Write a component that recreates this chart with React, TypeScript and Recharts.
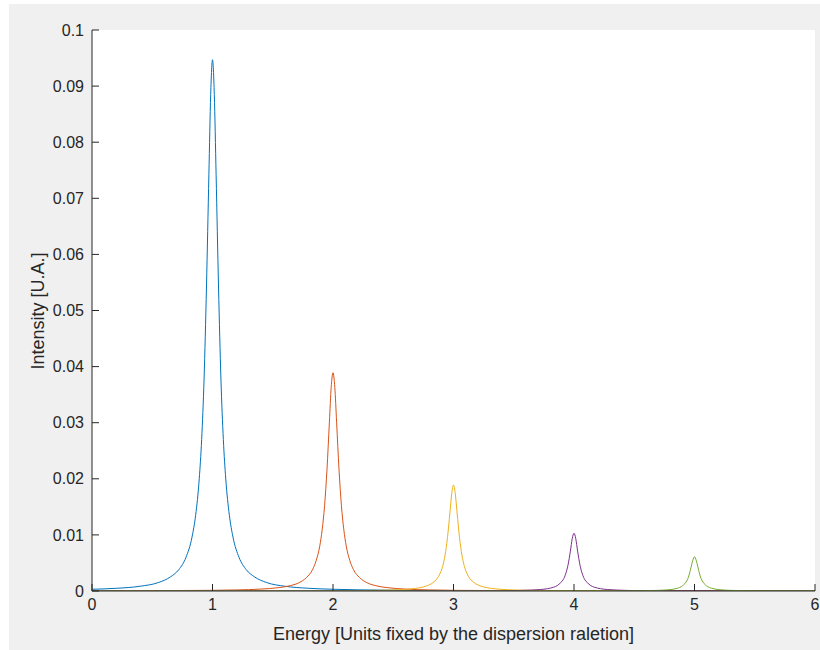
import { LineChart, Line, XAxis, YAxis, Label } from "recharts";

// energy / intensity, one pair of arrays per peak
const energy1 = [0, 0.2, 0.4, 0.55, 0.65, 0.72, 0.78, 0.83, 0.86, 0.89, 0.91, 0.93, 0.95, 0.97, 0.985, 1,
  1.015, 1.03, 1.05, 1.07, 1.09, 1.11, 1.14, 1.17, 1.22, 1.28, 1.35, 1.45, 1.6, 1.8, 2, 2.2, 3, 4, 6];
const intensity1 = [0.00031, 0.00048, 0.00085, 0.0015, 0.0025, 0.0038, 0.006, 0.0096, 0.0135, 0.02, 0.027, 0.0378, 0.0542, 0.0742, 0.0885, 0.0947,
  0.0885, 0.0742, 0.0542, 0.0378, 0.027, 0.02, 0.0135, 0.0096, 0.006, 0.0038, 0.0025, 0.0015, 0.00085, 0.00048, 0.00031, 0.00021, 0.000077, 0.000034, 0.000012];

const energy2 = [0, 1, 1.2, 1.4, 1.55, 1.65, 1.72, 1.78, 1.83, 1.86, 1.89, 1.91, 1.93, 1.95, 1.97, 1.985, 2,
  2.015, 2.03, 2.05, 2.07, 2.09, 2.11, 2.14, 2.17, 2.22, 2.28, 2.35, 2.45, 2.6, 2.8, 3, 4, 6];
const intensity2 = [0.00003, 0.00012, 0.00019, 0.00034, 0.0006, 0.00097, 0.0015, 0.0024, 0.0038, 0.0054, 0.008, 0.0109, 0.0152, 0.0216, 0.0301, 0.0363, 0.0389,
  0.0363, 0.0301, 0.0216, 0.0152, 0.0109, 0.008, 0.0054, 0.0038, 0.0024, 0.0015, 0.00097, 0.0006, 0.00034, 0.00019, 0.00012, 0.00003, 0.000008];

const energy3 = [0, 1, 2, 2.2, 2.4, 2.55, 2.65, 2.72, 2.78, 2.83, 2.86, 2.89, 2.91, 2.93, 2.95, 2.97, 2.985, 3,
  3.015, 3.03, 3.05, 3.07, 3.09, 3.11, 3.14, 3.17, 3.22, 3.28, 3.35, 3.45, 3.6, 3.8, 4, 5, 6];
const intensity3 = [0.000005, 0.000012, 0.000047, 0.000074, 0.00013, 0.00023, 0.00038, 0.00058, 0.00093, 0.0015, 0.0021, 0.0032, 0.0044, 0.0064, 0.0095, 0.0139, 0.0173, 0.0189,
  0.0173, 0.0139, 0.0095, 0.0064, 0.0044, 0.0032, 0.0021, 0.0015, 0.00093, 0.00058, 0.00038, 0.00023, 0.00013, 0.000074, 0.000047, 0.000012, 0.000005];

const energy4 = [0, 2, 3, 3.2, 3.4, 3.55, 3.65, 3.72, 3.78, 3.83, 3.86, 3.89, 3.91, 3.93, 3.95, 3.97, 3.985, 4,
  4.015, 4.03, 4.05, 4.07, 4.09, 4.11, 4.14, 4.17, 4.22, 4.28, 4.35, 4.45, 4.6, 4.8, 5, 6];
const intensity4 = [0.0000013, 0.000005, 0.00002, 0.000032, 0.000057, 0.0001, 0.00017, 0.00026, 0.00041, 0.00067, 0.00095, 0.0015, 0.002, 0.003, 0.0046, 0.0071, 0.0093, 0.0103,
  0.0093, 0.0071, 0.0046, 0.003, 0.002, 0.0015, 0.00095, 0.00067, 0.00041, 0.00026, 0.00017, 0.0001, 0.000057, 0.000032, 0.00002, 0.000005];

const energy5 = [0, 3, 4, 4.2, 4.4, 4.55, 4.65, 4.72, 4.78, 4.83, 4.86, 4.89, 4.91, 4.93, 4.95, 4.97, 4.985, 5,
  5.015, 5.03, 5.05, 5.07, 5.09, 5.11, 5.14, 5.17, 5.22, 5.28, 5.35, 5.45, 5.6, 5.8, 6];
const intensity5 = [0.0000004, 0.0000027, 0.000011, 0.000017, 0.00003, 0.000052, 0.000086, 0.00013, 0.00021, 0.00035, 0.0005, 0.00077, 0.0011, 0.0016, 0.0025, 0.0041, 0.0054, 0.0061,
  0.0054, 0.0041, 0.0025, 0.0016, 0.0011, 0.00077, 0.0005, 0.00035, 0.00021, 0.00013, 0.000086, 0.000052, 0.00003, 0.000017, 0.000011];

const xTicks = [0, 1, 2, 3, 4, 5, 6];
const yTicks = [0, 0.01, 0.02, 0.03, 0.04, 0.05, 0.06, 0.07, 0.08, 0.09, 0.1];

const colors = ["#0072BD", "#D95319", "#EDB120", "#7E2F8E", "#77AC30"];

const toPoints = (xs: number[], ys: number[]) => xs.map((x, i) => ({ x, y: ys[i] }));

const series = [
  toPoints(energy1, intensity1),
  toPoints(energy2, intensity2),
  toPoints(energy3, intensity3),
  toPoints(energy4, intensity4),
  toPoints(energy5, intensity5),
];

const font = "'Liberation Sans', Arial, sans-serif";
const axisColor = "#262626";
const tickStyle = { fill: axisColor, fontSize: 16, fontFamily: font };

export default function App() {
  const W = 811;
  const H = 646;
  return (
    <div style={{ position: "absolute", left: 9, top: 4, width: W, height: H, background: "#f0f0f0" }}>
      <LineChart width={W} height={H} margin={{ top: 26, right: 5, bottom: 29, left: 23 }}>
        <rect x={83} y={26} width={723} height={561} fill="#ffffff" />
        <XAxis
          dataKey="x"
          type="number"
          domain={[0, 6]}
          ticks={xTicks}
          allowDataOverflow
          height={30}
          stroke={axisColor}
          tickSize={-7}
          tickMargin={15}
          tick={tickStyle}
        >
          <Label
            content={() => (
              <text x={444.5} y={630} textAnchor="middle" dominantBaseline="central"
                fill={axisColor} fontSize={18} fontFamily={font}>
                Energy [Units fixed by the dispersion raletion]
              </text>
            )}
          />
        </XAxis>
        <XAxis
          xAxisId="top"
          orientation="top"
          type="number"
          domain={[0, 6]}
          ticks={xTicks}
          height={0}
          stroke={axisColor}
          tickSize={-7}
          tick={false}
        />
        <YAxis
          type="number"
          domain={[0, 0.1]}
          ticks={yTicks}
          allowDataOverflow
          width={60}
          stroke={axisColor}
          tickSize={-7}
          tickMargin={15}
          tick={tickStyle}
          tickFormatter={(v: number) => String(v)}
        >
          <Label
            content={() => (
              <text x={29} y={307} transform="rotate(-90 29 307)" textAnchor="middle" dominantBaseline="central"
                fill={axisColor} fontSize={18} fontFamily={font}>
                Intensity [U.A.]
              </text>
            )}
          />
        </YAxis>
        <YAxis
          yAxisId="right"
          orientation="right"
          type="number"
          domain={[0, 0.1]}
          ticks={yTicks}
          width={0}
          stroke={axisColor}
          tickSize={-7}
          tick={false}
        />
        {series.map((d, i) => (
          <Line
            key={i}
            data={d}
            dataKey="y"
            type="monotone"
            stroke={colors[i]}
            strokeWidth={1}
            dot={false}
            isAnimationActive={false}
          />
        ))}
      </LineChart>
    </div>
  );
}
